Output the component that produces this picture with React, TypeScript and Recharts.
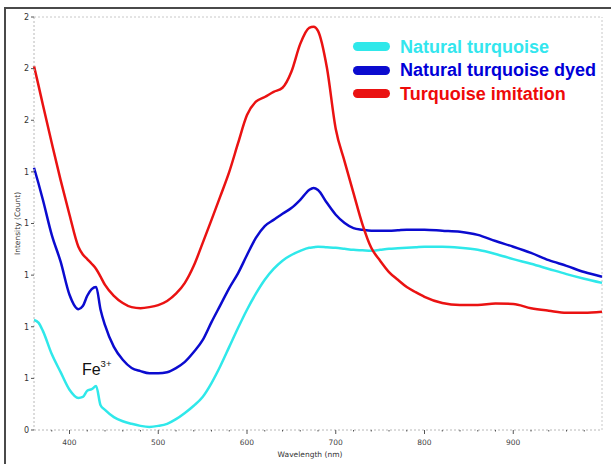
import React from "react";
import { LineChart, Line, XAxis, YAxis, ReferenceLine, ReferenceDot, Legend } from "recharts";

// wavelength (nm) sample points
const wavelengths = [
  360, 365, 370, 380, 390, 400, 410, 415, 420, 425, 430, 435, 440, 450, 460, 470, 480, 490, 500, 510,
  520, 530, 540, 550, 560, 570, 580, 590, 600, 610, 620, 630, 640, 650, 660, 670, 675, 680, 690, 700,
  710, 720, 730, 740, 750, 760, 770, 780, 790, 800, 820, 840, 860, 880, 900, 920, 940, 960, 980, 1000,
];

// intensity, in y tick steps
const naturalTurquoise = [
  2.13, 2.08, 1.92, 1.47, 1.12, 0.78, 0.62, 0.64, 0.76, 0.79, 0.85, 0.48, 0.39, 0.25, 0.17, 0.12, 0.08, 0.06, 0.08, 0.12,
  0.21, 0.33, 0.47, 0.64, 0.91, 1.24, 1.61, 1.98, 2.33, 2.64, 2.91, 3.12, 3.28, 3.39, 3.47, 3.53, 3.54, 3.55, 3.54, 3.53,
  3.51, 3.49, 3.48, 3.47, 3.49, 3.51, 3.52, 3.53, 3.54, 3.55, 3.55, 3.53, 3.49, 3.41, 3.31, 3.22, 3.12, 3.02, 2.93, 2.85,
];

const naturalDyed = [
  5.08, 4.78, 4.46, 3.78, 3.26, 2.62, 2.34, 2.4, 2.6, 2.73, 2.77, 2.33, 2.03, 1.61, 1.36, 1.2, 1.14, 1.1, 1.1, 1.12,
  1.2, 1.32, 1.51, 1.74, 2.09, 2.42, 2.75, 3.04, 3.39, 3.72, 3.95, 4.07, 4.19, 4.3, 4.46, 4.65, 4.69, 4.65, 4.4, 4.17,
  4.01, 3.91, 3.88, 3.86, 3.86, 3.86, 3.87, 3.88, 3.88, 3.88, 3.86, 3.84, 3.78, 3.66, 3.55, 3.43, 3.29, 3.18, 3.06, 2.97,
];

const imitation = [
  7.05, 6.68, 6.3, 5.56, 4.84, 4.17, 3.55, 3.4, 3.31, 3.22, 3.12, 2.97, 2.81, 2.6, 2.46, 2.38, 2.36, 2.38, 2.42, 2.5,
  2.64, 2.85, 3.18, 3.62, 4.07, 4.53, 5.0, 5.56, 6.1, 6.36, 6.45, 6.55, 6.63, 6.94, 7.48, 7.79, 7.81, 7.73, 7.02, 5.83,
  5.2, 4.59, 3.99, 3.53, 3.28, 3.06, 2.91, 2.77, 2.67, 2.58, 2.46, 2.42, 2.42, 2.45, 2.44, 2.36, 2.31, 2.27, 2.27, 2.29,
];

const yTicks = [0, 1, 2, 3, 4, 5, 6, 7, 8];
const yTickLabels = ["0", "1", "1", "1", "1", "1", "2", "2", "2"];
const xTicks = [380, 400, 420, 440, 460, 480, 500, 520, 540, 560, 580, 600, 620, 640, 660, 680, 700, 720, 740, 760, 780, 800, 820, 840, 860, 880, 900, 920, 940, 960, 980];

const series = [
  { key: "natural", name: "Natural turquoise", color: "#2fe8ea", text: "#33e6ee" },
  { key: "dyed", name: "Natural turquoise dyed", color: "#0b0bcf", text: "#0000d8" },
  { key: "imitation", name: "Turquoise imitation", color: "#ea1212", text: "#ee0a0a" },
];

const data = wavelengths.map((w, i) => ({
  w,
  natural: naturalTurquoise[i],
  dyed: naturalDyed[i],
  imitation: imitation[i],
}));

const tickFont = "Tahoma, 'DejaVu Sans', sans-serif";

function XTick({ x, y, payload }: any) {
  const major = payload.value % 100 === 0;
  return (
    <g>
      <line x1={x} x2={x} y1={y} y2={y + (major ? 4 : 1.5)} stroke="#555" strokeWidth={1} />
      {major && (
        <text x={x} y={y + 15} textAnchor="middle" fontSize={7.5} fontFamily={tickFont} fill="#444">
          {payload.value}
        </text>
      )}
    </g>
  );
}

function LegendBox() {
  return (
    <div style={{ fontFamily: "'Liberation Sans', Arial, sans-serif", fontWeight: "bold", fontSize: 18 }}>
      {series.map((s) => (
        <div key={s.key} style={{ display: "flex", alignItems: "center", height: 23.5 }}>
          <span style={{ width: 37, height: 9, borderRadius: 4.5, background: s.color, marginRight: 10, flexShrink: 0 }} />
          <span style={{ color: s.text, lineHeight: "18px", whiteSpace: "nowrap" }}>{s.name}</span>
        </div>
      ))}
    </div>
  );
}

export default function App() {
  return (
    <div style={{ position: "fixed", left: 0, top: 0, width: 611, height: 464, overflow: "hidden", background: "#fff" }}>
      <div
        style={{
          position: "absolute",
          left: 4,
          top: 7,
          width: 700,
          height: 600,
          borderLeft: "2px solid #4a4a4a",
          borderTop: "2px solid #4a4a4a",
        }}
      />
      <div style={{ position: "absolute", left: 0, top: 0 }}>
        <LineChart width={611} height={464} data={data} margin={{ top: 17, right: 9, bottom: 0, left: 4 }}>
          <XAxis
            dataKey="w"
            type="number"
            domain={[360, 1000]}
            ticks={xTicks}
            interval={0}
            height={34}
            stroke="#b8b8b8"
            strokeDasharray="2 2"
            tickLine={false}
            tickSize={0}
            tickMargin={0}
            tick={<XTick />}
            label={{
              content: ({ viewBox }: any) => (
                <text
                  x={viewBox.x + viewBox.width / 2 - 8}
                  y={viewBox.y + 27}
                  textAnchor="middle"
                  fontSize={7.5}
                  fontFamily={tickFont}
                  fill="#333"
                >
                  Wavelength (nm)
                </text>
              ),
            }}
          />
          <YAxis
            type="number"
            domain={[0, 8]}
            ticks={yTicks}
            interval={0}
            width={30}
            stroke="#b8b8b8"
            strokeDasharray="2 2"
            tickSize={3}
            tickMargin={2}
            tickLine={{ stroke: "#555", strokeDasharray: "0" }}
            tick={{ fontSize: 8, fontFamily: tickFont, fill: "#333" }}
            tickFormatter={(v: number) => yTickLabels[yTicks.indexOf(v)]}
            label={{
              content: ({ viewBox }: any) => {
                const cx = viewBox.x + 16;
                const cy = viewBox.y + viewBox.height / 2;
                return (
                  <text
                    x={cx}
                    y={cy}
                    transform={`rotate(-90 ${cx} ${cy})`}
                    textAnchor="middle"
                    fontSize={7.5}
                    fontFamily={tickFont}
                    fill="#333"
                  >
                    Intensity (Count)
                  </text>
                );
              },
            }}
          />
          <ReferenceLine y={8} stroke="#c8c8c8" strokeDasharray="2 2" />
          <ReferenceLine x={1000} stroke="#c8c8c8" strokeDasharray="2 2" />
          {series.map((s) => (
            <Line
              key={s.key}
              type="monotone"
              dataKey={s.key}
              name={s.name}
              stroke={s.color}
              strokeWidth={2.5}
              dot={false}
              isAnimationActive={false}
            />
          ))}
          <ReferenceDot
            x={414}
            y={1.07}
            r={0}
            label={{
              content: ({ viewBox }: any) => (
                <text x={viewBox.x} y={viewBox.y} fontSize={16} fontFamily="'Liberation Sans', Arial, sans-serif" fill="#111">
                  Fe
                  <tspan dy={-8} fontSize={9.5}>
                    3+
                  </tspan>
                </text>
              ),
            }}
          />
          <Legend
            layout="vertical"
            align="center"
            verticalAlign="middle"
            wrapperStyle={{ top: 35, left: 353, width: 258 }}
            content={() => <LegendBox />}
          />
        </LineChart>
      </div>
    </div>
  );
}
